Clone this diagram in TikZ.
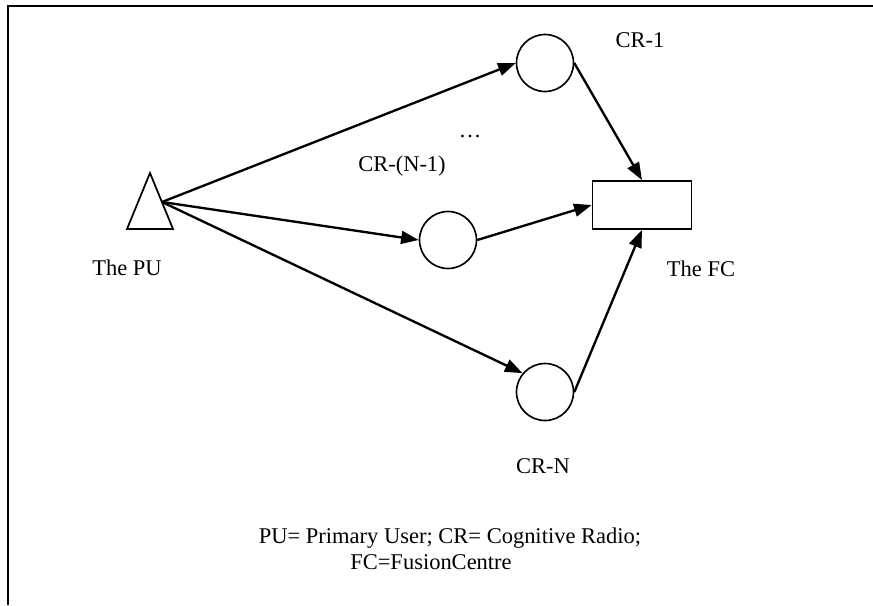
\documentclass[tikz,border=0pt]{standalone}
\usepackage{fontspec}
\setmainfont{Liberation Serif}
\usetikzlibrary{arrows.meta}

\begin{document}
\begin{tikzpicture}[
    x=0.03cm, y=-0.03cm,
    font=\fontsize{19.2}{23}\selectfont,
    cr/.style={circle, draw=black, line width=1.4pt, minimum size=1.71cm, inner sep=0pt},
    fcbox/.style={rectangle, draw=black, line width=1.5pt, minimum width=2.97cm,
                  minimum height=1.44cm, inner sep=0pt},
    arr/.style={-{Triangle[length=15pt,width=11pt]}, line width=2pt},
    lbl/.style={inner sep=0pt}
]
\useasboundingbox (0,0) rectangle (873,605);
\draw[line width=1.6pt] (873,6) -- (8,6) -- (8,605);
% the PU
\draw[line width=1.5pt] (150,173) -- (173,229) -- (127,229) -- cycle;
\coordinate (pu) at (162,202);
\node[lbl] (pulbl) at (127,268) {The PU};
% the CRs and the FC
\node[cr]    (cr1)  at (545,63)  {};
\node[cr]    (crn1) at (448,240) {};
\node[cr]    (crn)  at (545,392) {};
\node[fcbox] (fc)   at (642,205) {};
\node[lbl] (cr1lbl)  at (640,40)  {CR-1};
\node[lbl] (dots)    at (470,136) {\dots};
\node[lbl] (crn1lbl) at (402,166) {CR-(N-1)};
\node[lbl] (crnlbl)  at (543,466) {CR-N};
\node[lbl] (fclbl)   at (701,269) {The FC};
\draw[arr] (pu) -- (cr1.west);
\draw[arr] (pu) -- (crn1.west);
\draw[arr] (pu) -- (crn.140);
\draw[arr] (cr1.east) -- (fc.north);
\draw[arr] (crn1.east) -- (fc.west);
\draw[arr] (crn.east) -- (fc.south);
% legend
\node[lbl] (foot1) at (450,538) {PU= Primary User; CR= Cognitive Radio;};
\node[lbl] (foot2) at (431,562) {FC=FusionCentre};
\end{tikzpicture}
\end{document}
